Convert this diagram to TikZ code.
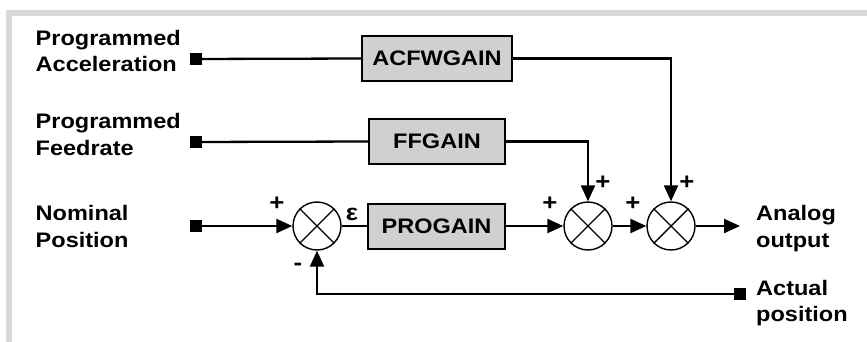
\documentclass[tikz,border=0pt]{standalone}
\usepackage{fontspec}
\setmainfont{Liberation Sans}[FakeStretch=1.12]
\usetikzlibrary{arrows.meta}
\definecolor{framegray}{HTML}{D9D9D9}
\definecolor{boxgray}{HTML}{D0D0D0}
\begin{document}
\begin{tikzpicture}[x=1pt,y=-1pt,
  lbl/.style={font=\fontsize{21}{26.5}\selectfont\bfseries, align=left, anchor=west, inner sep=0pt},
  gain/.style={draw, line width=2pt, fill=boxgray, minimum height=45pt, font=\fontsize{21}{24}\selectfont\bfseries, inner sep=0pt},
  sumnode/.style={circle, draw, line width=1.4pt, minimum size=48pt, inner sep=0pt},
  term/.style={fill=black, minimum size=12pt, inner sep=0pt},
  sgn/.style={font=\fontsize{23}{24}\selectfont\bfseries, inner sep=0pt},
  wire/.style={line width=2.3pt},
  arr/.style={wire, -{Triangle[length=16pt,width=14pt]}},
  xline/.style={line width=1.4pt}
]
\useasboundingbox (0,0) rectangle (867,342);
% frame
\fill[framegray] (6,10) rectangle (867,16);
\fill[framegray] (6,10) rectangle (12,342);

% labels
\node[lbl] (lacc) at (35.5,51) {Programmed\\Acceleration};
\node[lbl] (lfeed) at (35.5,134.5) {Programmed\\Feedrate};
\node[lbl] (lnom) at (35.5,226.5) {Nominal\\Position};
\node[lbl] (lout) at (756,228.5) {Analog\\output};
\node[lbl] (lact) at (756,303) {Actual\\position};

% terminals
\node[term] (tacc) at (196,59) {};
\node[term] (tfeed) at (196,142) {};
\node[term] (tnom) at (196,226) {};
\node[term] (tact) at (740,294) {};

% gain blocks
\node[gain, minimum width=150pt] (acfw) at (437,58.5) {ACFWGAIN};
\node[gain, minimum width=136pt] (ffg) at (437,141.5) {FFGAIN};
\node[gain, minimum width=137pt] (prog) at (436.5,226) {PROGAIN};

% summing junctions
\node[sumnode] (s1) at (317,226) {};
\node[sumnode] (s2) at (588,226) {};
\node[sumnode] (s3) at (671,226) {};
\foreach \s in {s1,s2,s3}{
  \draw[xline] (\s.45) -- (\s.225);
  \draw[xline] (\s.135) -- (\s.315);
}

\coordinate (outend) at (740,226);

% connectors
\draw[wire] (tacc) -- (acfw.west);
\draw[arr] (acfw.east) -| (s3.north);
\draw[wire] (tfeed) -- (ffg.west);
\draw[arr] (ffg.east) -| (s2.north);
\draw[arr] (tnom) -- (s1.west);
\draw[wire] (s1.east) -- (prog.west);
\draw[arr] (prog.east) -- (s2.west);
\draw[arr] (s2.east) -- (s3.west);
\draw[arr] (s3.east) -- (outend);
\draw[arr] (tact) -| (s1.south);

% signs
\node[sgn] (p1) at (277,204) {+};
\node[sgn] (m1) at (298,267) {-};
\node[sgn] (eps) at (352,214) {ε};
\node[sgn] (p2) at (550,204) {+};
\node[sgn] (p2t) at (603,183) {+};
\node[sgn] (p3) at (633,204) {+};
\node[sgn] (p3t) at (687,183) {+};
\end{tikzpicture}
\end{document}
